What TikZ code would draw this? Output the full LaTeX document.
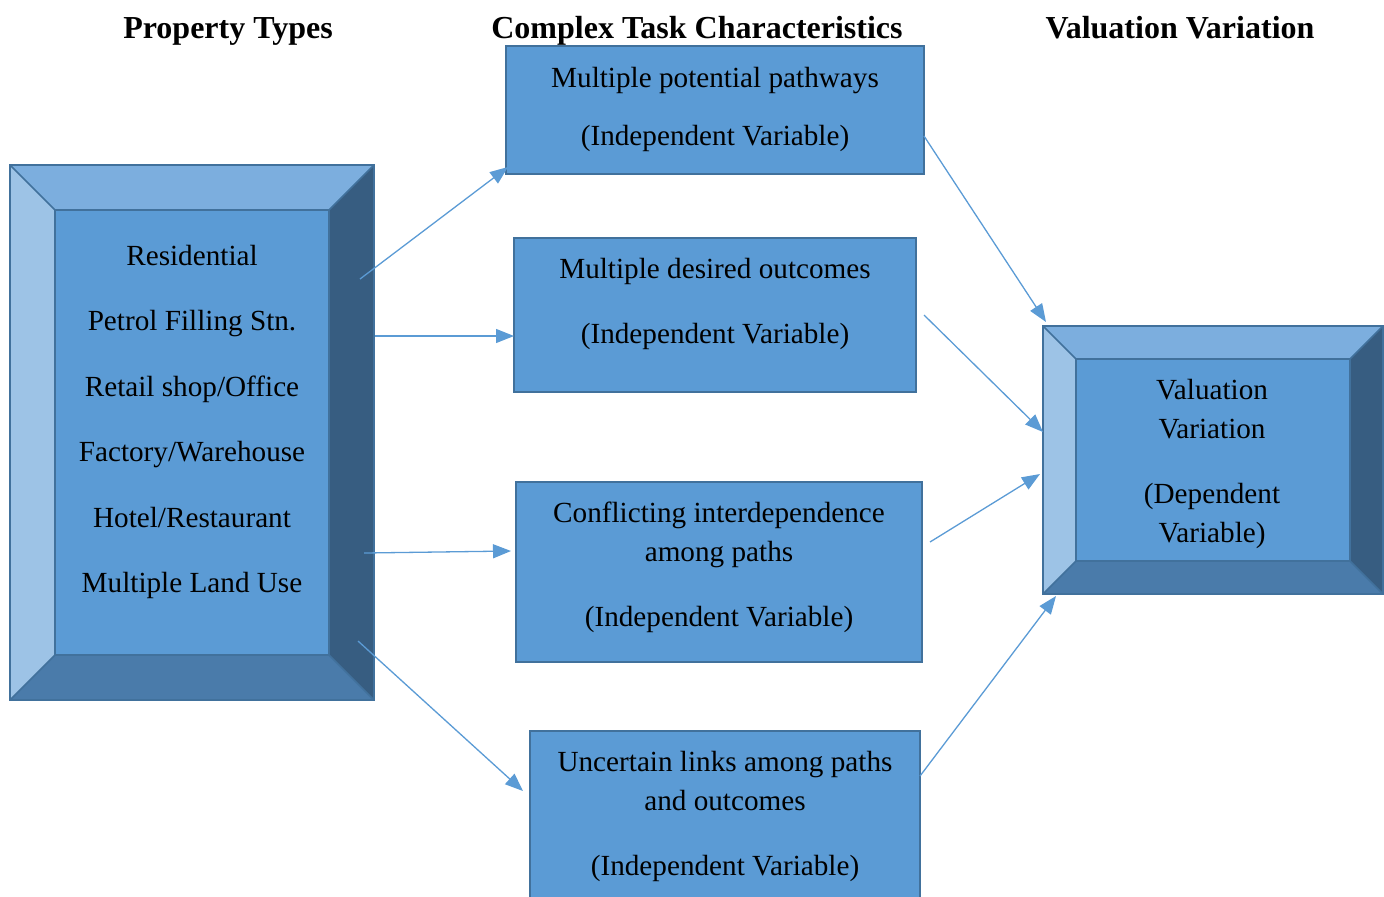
\documentclass[tikz,border=0pt]{standalone}
\usepackage{fontspec}
\setmainfont{Liberation Serif}
\usetikzlibrary{arrows.meta}
\definecolor{face}{HTML}{5B9BD5}
\definecolor{edge}{HTML}{41719C}
\definecolor{bvtop}{HTML}{7CAEDE}
\definecolor{bvleft}{HTML}{9DC3E6}
\definecolor{bvright}{HTML}{375D81}
\definecolor{bvbottom}{HTML}{4A7BAA}
\tikzset{
  box/.style={draw=edge, fill=face, line width=1pt, inner sep=0pt},
  txt/.style={font=\fontsize{14.6}{17}\selectfont, inner sep=0pt, anchor=base},
  head/.style={font=\fontsize{16}{19}\selectfont\bfseries, inner sep=0pt, anchor=base},
  arr/.style={draw=face, line width=0.65pt, -{Triangle[length=9pt,width=7pt]}},
  seam/.style={draw=edge, line width=0.8pt, line join=miter},
}
% bevelled panel: outer corners (#1,#2)-(#3,#4), bevel width #5
\newcommand{\bevelpanel}[5]{%
  \fill[bvtop] (#1,#2) -- (#3,#2) -- (#3-#5,#2+#5) -- (#1+#5,#2+#5) -- cycle;
  \fill[bvleft] (#1,#2) -- (#1+#5,#2+#5) -- (#1+#5,#4-#5) -- (#1,#4) -- cycle;
  \fill[bvright] (#3,#2) -- (#3,#4) -- (#3-#5,#4-#5) -- (#3-#5,#2+#5) -- cycle;
  \fill[bvbottom] (#1,#4) -- (#1+#5,#4-#5) -- (#3-#5,#4-#5) -- (#3,#4) -- cycle;
  \fill[face] (#1+#5,#2+#5) rectangle (#3-#5,#4-#5);
  \draw[seam] (#1,#2) -- (#1+#5,#2+#5) (#3,#2) -- (#3-#5,#2+#5)
              (#1,#4) -- (#1+#5,#4-#5) (#3,#4) -- (#3-#5,#4-#5);
  \draw[seam] (#1+#5,#2+#5) rectangle (#3-#5,#4-#5);
  \draw[edge, line width=1pt] (#1,#2) rectangle (#3,#4);
}
\begin{document}
\begin{tikzpicture}[x=0.5pt, y=-0.5pt]
\useasboundingbox (0,0) rectangle (1384,896);
\clip (0,0) rectangle (1384,896);

% column headings (baselines)
\node[head] (h1) at (228,38) {Property Types};
\node[head] (h2) at (697,38) {Complex Task Characteristics};
\node[head] (h3) at (1180,38) {Valuation Variation};

% property types panel
\bevelpanel{10}{165}{374}{700}{45}
\node[inner sep=0pt, minimum width=182pt, minimum height=267.5pt] (prop) at (192,432.5) {};
\node[txt] (p1) at (192,265) {Residential};
\node[txt] (p2) at (192,330) {Petrol Filling Stn.};
\node[txt] (p3) at (192,396) {Retail shop/Office};
\node[txt] (p4) at (192,461) {Factory/Warehouse};
\node[txt] (p5) at (192,527) {Hotel/Restaurant};
\node[txt] (p6) at (192,592) {Multiple Land Use};

% valuation panel
\bevelpanel{1043}{326}{1383}{594}{33}
\node[inner sep=0pt, minimum width=170pt, minimum height=134pt] (val) at (1213,460) {};
\node[txt] (v1) at (1212,399) {Valuation};
\node[txt] (v2) at (1212,438) {Variation};
\node[txt] (v3) at (1212,503) {(Dependent};
\node[txt] (v4) at (1212,542) {Variable)};

% task characteristic boxes
\node[box, minimum width=209pt, minimum height=64pt] (b1) at (715,110) {};
\node[txt] (b1a) at (715,87) {Multiple potential pathways};
\node[txt] (b1b) at (715,145) {(Independent Variable)};

\node[box, minimum width=201pt, minimum height=77pt] (b2) at (715,315) {};
\node[txt] (b2a) at (715,278) {Multiple desired outcomes};
\node[txt] (b2b) at (715,343) {(Independent Variable)};

\node[box, minimum width=203pt, minimum height=90pt] (b3) at (719,572) {};
\node[txt] (b3a) at (719,522) {Conflicting interdependence};
\node[txt] (b3b) at (719,561) {among paths};
\node[txt] (b3c) at (719,626) {(Independent Variable)};

\node[box, minimum width=195pt, minimum height=90pt] (b4) at (725,821) {};
\node[txt] (b4a) at (725,771) {Uncertain links among paths};
\node[txt] (b4b) at (725,810) {and outcomes};
\node[txt] (b4c) at (725,875) {(Independent Variable)};

% connector end points
\coordinate (s1) at (360,279);  \coordinate (e1) at (508,167);
\coordinate (s2) at (375,336);  \coordinate (e2) at (514,336);
\coordinate (s3) at (364,553);  \coordinate (e3) at (511,551);
\coordinate (s4) at (358,641);  \coordinate (e4) at (523,791);
\coordinate (s5) at (924,136);  \coordinate (e5) at (1046,322);
\coordinate (s6) at (924,315);  \coordinate (e6) at (1043,432);
\coordinate (s7) at (930,542);  \coordinate (e7) at (1040,474);
\coordinate (s8) at (920,776);  \coordinate (e8) at (1056,596);

\draw[arr] (s1) -- (e1);
\draw[arr] (s2) -- (e2);
\draw[arr] (s3) -- (e3);
\draw[arr] (s4) -- (e4);
\draw[arr] (s5) -- (e5);
\draw[arr] (s6) -- (e6);
\draw[arr] (s7) -- (e7);
\draw[arr] (s8) -- (e8);
\end{tikzpicture}
\end{document}
